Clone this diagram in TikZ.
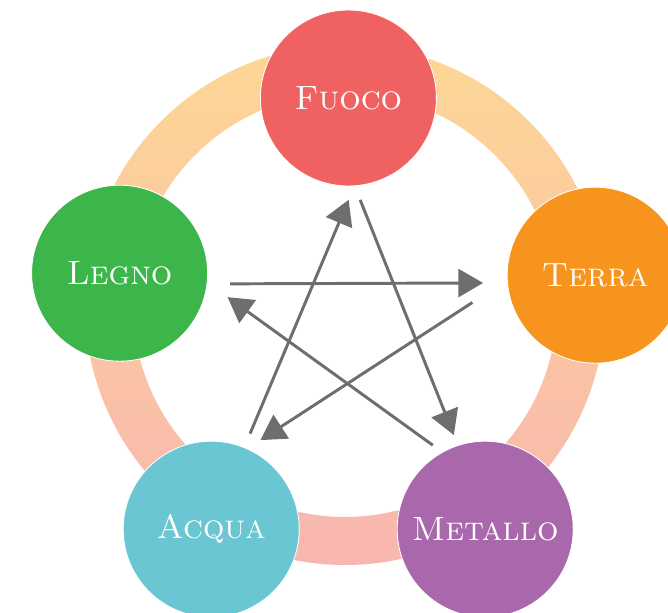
\documentclass[tikz,border=0pt]{standalone}
\usepackage{xcolor}
\usepackage{tikz}
\usetikzlibrary{arrows.meta,calc}

\definecolor{fuococol}{HTML}{F06262}
\definecolor{legnocol}{HTML}{3CB54A}
\definecolor{terracol}{HTML}{F7941E}
\definecolor{acquacol}{HTML}{6AC6D3}
\definecolor{metallocol}{HTML}{AA68AC}
\definecolor{ringtop}{HTML}{FDD795}
\definecolor{ringmid}{HTML}{FAC8A4}
\definecolor{ringbot}{HTML}{F8B6B0}
\definecolor{arrgray}{HTML}{6D6E70}

\begin{document}
\begin{tikzpicture}[>={Triangle[length=6.2mm,width=7mm]},
   elem/.style={circle,minimum size=4.4cm,inner sep=0pt,outer sep=0pt,
     draw=white,line width=0.6pt,text=white,font=\fontsize{24}{28}\selectfont\scshape},
   arr/.style={->,draw=arrgray,line width=2.1pt}]
 \useasboundingbox (0,0) rectangle (16.7,-15.325);
 % shaded ring behind the elements
 \coordinate (c) at (8.625,-7.625);
 \shade[even odd rule,top color=ringtop,middle color=ringmid,bottom color=ringbot]
   (c) circle (6.5) (c) circle (5.3);
 % the five elements (explicit coordinates)
 \node[elem,fill=fuococol]   (fuoco)   at (8.71,-2.45)  {Fuoco};
 \node[elem,fill=legnocol]   (legno)   at (2.99,-6.83)  {Legno};
 \node[elem,fill=terracol]   (terra)   at (14.88,-6.88) {Terra};
 \node[elem,fill=acquacol]   (acqua)   at (5.28,-13.23) {Acqua};
 \node[elem,fill=metallocol] (metallo) at (12.13,-13.23) {Metallo};
 % star of arrows
 \draw[arr,shorten <=5.8mm,shorten >=6.1mm] (legno.-7.2) -- (terra.185.9);
 \draw[arr,shorten <=10.4mm,shorten >=4mm] (terra.183.8) -- (acqua.66.1);
 \draw[arr,shorten <=3.8mm,shorten >=3.8mm] (acqua.68.4) -- (fuoco.-86.6);
 \draw[arr,shorten <=3.8mm,shorten >=2.8mm] (fuoco.-86.7) -- (metallo.108.2);
 \draw[arr,shorten <=3mm,shorten >=6.3mm] (metallo.119) -- (legno.-6.3);
\end{tikzpicture}
\end{document}
